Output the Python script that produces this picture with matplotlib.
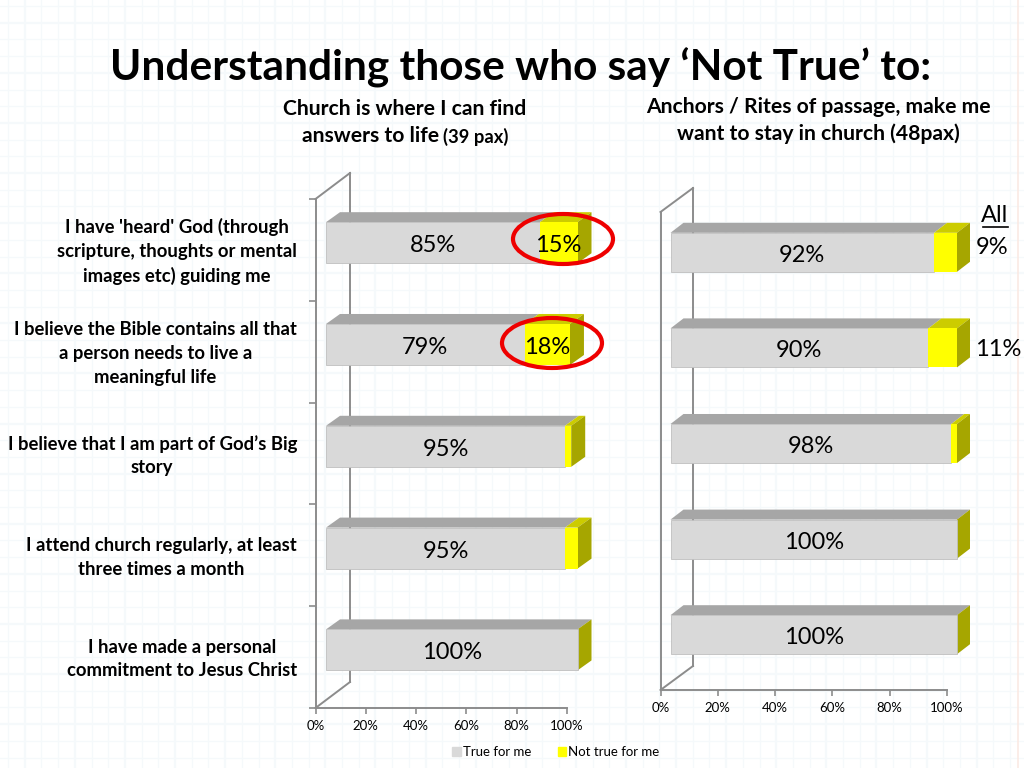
import matplotlib
matplotlib.use("Agg")
import matplotlib.pyplot as plt
from matplotlib.patches import Polygon, Ellipse, Rectangle

plt.rcParams['font.family'] = ['Lato', 'DejaVu Sans']

# data
statements = [
    "I have 'heard' God (through\nscripture, thoughts or mental\nimages etc) guiding me",
    "I believe the Bible contains all that\na person needs to live a\nmeaningful life",
    "I believe that I am part of God\u2019s Big\nstory",
    "I attend church regularly, at least\nthree times a month",
    "I have made a personal\ncommitment to Jesus Christ",
]
left_true = [85, 79, 95, 95, 100]
left_not = [15, 18, 2.5, 5, 0]
left_not_labels = ["15%", "18%", "", "", ""]
right_true = [92, 90, 98, 100, 100]
right_not = [8, 10, 2, 0, 0]
right_true_labels = ["92%", "90%", "98%", "100%", "100%"]
all_labels = ["9%", "11%"]
x_ticks = [0, 20, 40, 60, 80, 100]

W, H = 1024, 768
GREY = '#d9d9d9'
GREY_TOP = '#a6a6a6'
YELLOW = '#ffff00'
YELLOW_TOP = '#cccc00'
YELLOW_SIDE = '#a6a600'
AXIS = '#8c8c8c'

fig = plt.figure(figsize=(W / 100, H / 100), dpi=100, facecolor='white')


def make_axes(x0, x1, y0, y1):
    ax = fig.add_axes([x0 / W, 1 - y1 / H, (x1 - x0) / W, (y1 - y0) / H])
    ax.set_xlim(0, 100)
    ax.set_ylim(5, 0)
    ax.patch.set_alpha(0)
    return ax


# faint squared paper behind everything
paper = fig.add_axes([0, 0, 1, 1], zorder=-1)
paper.set_xlim(0, W)
paper.set_ylim(H, 0)
paper.axis('off')
for i in range(62):
    x = 8 + i * 16.7
    paper.axvline(x, color='#f5f9fb', lw=1.6 if i % 3 == 1 else 0.9)
for i in range(46):
    y = 6 + i * 16.7
    paper.axhline(y, color='#f5f9fb', lw=1.6 if i % 3 == 1 else 0.9)
paper.axvline(1018, color='#fbeae4', lw=1.2)


def draw_panel(ax, true_vals, not_vals, true_labels, not_labels, wall, inset, depth, bar_h, shift):
    # sizes below are pixels, turned into data units of this axes
    bbox = ax.get_position()
    px_x = 100 / (bbox.width * W)
    px_y = 5 / (bbox.height * H)
    off = inset * px_x
    ddx, ddy = depth[0] * px_x, depth[1] * px_y
    wall_x, wall_y = wall[0] * px_x, wall[1] * px_y

    # axis frame with the back wall
    ax.plot([0, wall_x], [5, 5 - wall_y], color=AXIS, lw=1.4, clip_on=False, zorder=1)
    ax.plot([wall_x, wall_x], [5 - wall_y, -wall_y], color=AXIS, lw=1.4, clip_on=False, zorder=1)
    ax.plot([0, wall_x], [0, -wall_y], color=AXIS, lw=1.4, clip_on=False, zorder=1)

    for i, (t, n) in enumerate(zip(true_vals, not_vals)):
        yc = i + 0.5 - shift * px_y
        top = yc - bar_h / 2
        bot = yc + bar_h / 2
        end = t + n
        ax.barh(yc, t, bar_h, left=off, color=GREY, edgecolor='#bfbfbf', lw=0.6, zorder=3, clip_on=False)
        ax.add_patch(Polygon([(off, top), (off + ddx, top - ddy), (off + t + ddx, top - ddy), (off + t, top)],
                             facecolor=GREY_TOP, edgecolor='none', clip_on=False, zorder=2))
        if n > 0:
            ax.barh(yc, n, bar_h, left=off + t, color=YELLOW, zorder=3, clip_on=False)
            ax.add_patch(Polygon([(off + t, top), (off + t + ddx, top - ddy), (off + end + ddx, top - ddy), (off + end, top)],
                                 facecolor=YELLOW_TOP, edgecolor='none', clip_on=False, zorder=2))
        ax.add_patch(Polygon([(off + end, top), (off + end + ddx, top - ddy), (off + end + ddx, bot - ddy), (off + end, bot)],
                             facecolor=YELLOW_SIDE, edgecolor='none', clip_on=False, zorder=2))
        ax.text(off + t / 2, yc + 3 * px_y, true_labels[i], ha='center', va='center', fontsize=17, color='black', zorder=5)
        if not_labels[i]:
            ax.text(off + t + n / 2, yc + 3 * px_y, not_labels[i], ha='center', va='center', fontsize=17, color='black', zorder=5)

    ax.set_xticks(x_ticks)
    ax.set_xticklabels([f"{v}%" for v in x_ticks], fontsize=9.5)
    ax.tick_params(axis='x', color=AXIS, length=4, width=1.2, pad=5)
    for s in ['top', 'right']:
        ax.spines[s].set_visible(False)
    for s in ['left', 'bottom']:
        ax.spines[s].set_color(AXIS)
        ax.spines[s].set_linewidth(1.4)


ax1 = make_axes(315.5, 567, 199, 708)
ax2 = make_axes(660.5, 947, 212, 690)

draw_panel(ax1, left_true, left_not, [f"{v}%" for v in left_true], left_not_labels,
           (34.5, 26), 10.5, (14, 10), 0.403, 7.2)
draw_panel(ax2, right_true, right_not, right_true_labels, [""] * 5,
           (32.5, 24), 10, (13, 10), 0.408, 7.5)

ax1.set_yticks(range(6))
ax1.set_yticklabels([])
ax1.tick_params(axis='y', color=AXIS, length=5, width=1.2)
ax2.set_yticks([])

# category statements, right aligned against the left axis
for i, s in enumerate(statements):
    ax1.annotate(s, xy=(0, i + 0.5), xycoords=ax1.get_yaxis_transform(), xytext=(-18.5, -2),
                 textcoords='offset pixels', ha='right', va='center', multialignment='center',
                 fontsize=13.3, fontweight='bold', linespacing=1.48, color='black',
                 annotation_clip=False)

# legend
handles = [Rectangle((0, 0), 1, 1, color=GREY), Rectangle((0, 0), 1, 1, color=YELLOW)]
fig.legend(handles, ["True for me", "Not true for me"], loc='center', bbox_to_anchor=(556 / W, 1 - 752 / H),
           ncol=2, frameon=False, fontsize=9.5, handlelength=0.65, handleheight=0.65,
           handletextpad=0.15, columnspacing=2.0)

# titles and callouts
overlay = fig.add_axes([0, 0, 1, 1], zorder=10)
overlay.set_xlim(0, W)
overlay.set_ylim(H, 0)
overlay.axis('off')
overlay.text(520.5, 68, "Understanding those who say \u2018Not True\u2019 to:", ha='center', va='center',
             fontsize=30.5, fontweight='bold', color='black')
overlay.text(405, 109, "Church is where I can find", ha='center', va='center', fontsize=15.2, fontweight='bold')
overlay.text(439, 136, "answers to life", ha='right', va='center', fontsize=15.2, fontweight='bold')
overlay.text(443, 137, "(39 pax)", ha='left', va='center', fontsize=13.2, fontweight='bold')
overlay.text(818, 107, "Anchors / Rites of passage, make me", ha='center', va='center', fontsize=15.2, fontweight='bold')
overlay.text(818, 134, "want to stay in church (48pax)", ha='center', va='center', fontsize=15.2, fontweight='bold')
overlay.text(995, 216, "All", ha='center', va='center', fontsize=17)
overlay.plot([983, 1008], [227, 227], color='black', lw=1.2)
overlay.text(992, 248, all_labels[0], ha='center', va='center', fontsize=17)
overlay.text(998, 349, all_labels[1], ha='center', va='center', fontsize=17)
overlay.add_patch(Ellipse((563, 239), 100, 50, fill=False, edgecolor='#ee0000', lw=3))
overlay.add_patch(Ellipse((552, 343), 100, 50, fill=False, edgecolor='#ee0000', lw=3))

fig.savefig('out.png', dpi=100)
